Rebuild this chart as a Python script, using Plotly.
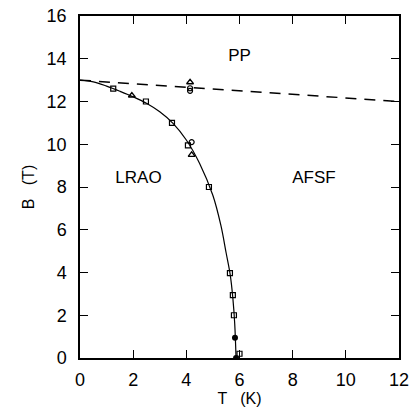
import plotly.graph_objects as go

# Phase boundary curve (solid)
curve_T = [0, 0.5, 1.0, 1.5, 2.0, 2.5, 3.0, 3.5, 4.0, 4.5, 5.0, 5.3, 5.5, 5.65, 5.75, 5.82, 5.87]
curve_B = [13.0, 12.92, 12.72, 12.48, 12.22, 11.92, 11.52, 10.98, 10.2, 9.1, 7.6, 6.2, 4.9, 3.9, 2.8, 1.6, 0.0]
# Dashed line
dash_T = [0, 12]
dash_B = [13.0, 12.0]
# Data points
sq_T = [1.25, 2.48, 3.46, 4.06, 4.85, 5.64, 5.75, 5.79, 6.0]
sq_B = [12.6, 12.0, 11.0, 9.95, 8.0, 3.97, 2.94, 2.0, 0.2]
tri_T = [1.95, 4.2, 4.14]
tri_B = [12.28, 9.5, 12.9]
circ_T = [4.2, 4.14, 4.14]
circ_B = [10.1, 12.62, 12.5]
fcirc_T = [5.83, 5.87]
fcirc_B = [0.95, 0.0]

labels = ["PP", "LRAO", "AFSF"]
label_T = [6.0, 2.2, 8.8]
label_B = [14.1, 8.4, 8.4]

fig = go.Figure()
fig.add_trace(go.Scatter(x=curve_T, y=curve_B, mode="lines", line=dict(color="black", width=1.2, shape="spline"), showlegend=False))
fig.add_trace(go.Scatter(x=dash_T, y=dash_B, mode="lines", line=dict(color="black", width=1.5, dash="11px,8px"), showlegend=False))
fig.add_trace(go.Scatter(x=sq_T, y=sq_B, mode="markers", marker=dict(symbol="square-open", size=5, color="black", line=dict(width=1.2)), showlegend=False))
fig.add_trace(go.Scatter(x=tri_T, y=tri_B, mode="markers", marker=dict(symbol="triangle-up-open", size=6, color="black", line=dict(width=1.3)), showlegend=False))
fig.add_trace(go.Scatter(x=circ_T, y=circ_B, mode="markers", marker=dict(symbol="circle-open", size=5, color="black", line=dict(width=1.2)), showlegend=False))
fig.add_trace(go.Scatter(x=fcirc_T, y=fcirc_B, mode="markers", marker=dict(symbol="circle", size=6, color="black"), showlegend=False))
fig.add_trace(go.Scatter(x=label_T, y=label_B, mode="text", text=labels, textfont=dict(size=17, color="black", family="Liberation Sans"), showlegend=False))

axis_common = dict(showgrid=False, zeroline=False, showline=True, linecolor="black", linewidth=1.5,
                   mirror="ticks", ticks="inside", ticklen=8, tickwidth=1.2, tickcolor="black",
                   tickfont=dict(size=18, color="black", family="Liberation Sans"), dtick=2,
                   automargin=False)
fig.update_xaxes(range=[0, 12], ticklabelstandoff=5,
                 title=dict(text="T   (K)", font=dict(size=16, color="black", family="Liberation Sans"), standoff=2), **axis_common)
fig.update_yaxes(range=[0, 16], ticklabelstandoff=8,
                 title=dict(text="B   (T)", font=dict(size=16, color="black", family="Liberation Sans"), standoff=8), **axis_common)
fig.update_layout(width=413, height=412, margin=dict(l=80, r=14, t=16, b=54),
                  plot_bgcolor="white", paper_bgcolor="white")
fig.write_html("out.html")
